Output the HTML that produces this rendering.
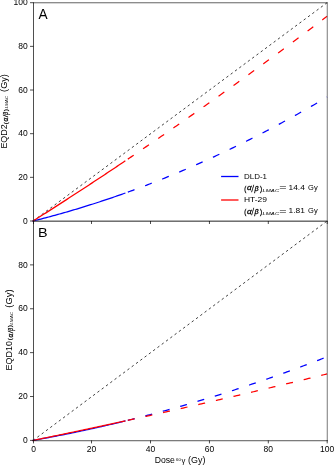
<!DOCTYPE html>
<html><head><meta charset="utf-8"><style>
html,body{margin:0;padding:0;background:#fff;width:335px;height:467px;overflow:hidden}
svg{display:block;will-change:transform}
text{font-family:"Liberation Sans",sans-serif;fill:#000}
</style></head><body>
<svg width="335" height="467" viewBox="0 0 335 467" font-family="Liberation Sans, sans-serif">
<rect width="335" height="467" fill="#fff"/>
<line x1="33.10" y1="221.00" x2="327.10" y2="2.70" stroke="#000" stroke-width="0.75" stroke-dasharray="2.4 2.95"/>
<polyline points="33.10,221.00 34.65,220.61 36.21,220.22 37.76,219.82 39.32,219.43 40.87,219.03 42.43,218.62 43.98,218.22 45.54,217.81 47.09,217.40 48.65,216.98 50.20,216.57 51.76,216.15 53.31,215.72 54.87,215.30 56.42,214.87 57.98,214.44 59.53,214.00 61.08,213.57 62.64,213.13 64.19,212.68 65.75,212.24 67.30,211.79 68.86,211.34 70.41,210.88 71.97,210.43 73.52,209.97 75.08,209.50 76.63,209.04 78.19,208.57 79.74,208.10 81.30,207.63 82.85,207.15 84.41,206.67 85.96,206.19 87.51,205.70 89.07,205.21 90.62,204.72 92.18,204.23 93.73,203.73 95.29,203.23 96.84,202.73 98.40,202.23 99.95,201.72 101.51,201.21 103.06,200.69 104.62,200.18 106.17,199.66 107.73,199.14 109.28,198.61 110.84,198.08 112.39,197.55 113.95,197.02 115.50,196.48 117.05,195.94 118.61,195.40 120.16,194.86 121.72,194.31 123.27,193.76 124.83,193.21" fill="none" stroke="#0000ff" stroke-width="1.25" stroke-linecap="square" stroke-linejoin="round"/>
<polyline points="127.83,192.13 129.50,191.53 131.18,190.92 132.85,190.31 134.53,189.69 136.20,189.07 137.87,188.45 139.55,187.83 141.22,187.20 142.90,186.57 144.57,185.93 146.25,185.30 147.92,184.65 149.60,184.01 151.27,183.36 152.95,182.71 154.62,182.06 156.29,181.40 157.97,180.74 159.64,180.07 161.32,179.41 162.99,178.74 164.67,178.06 166.34,177.39 168.02,176.70 169.69,176.02 171.37,175.33 173.04,174.64 174.71,173.95 176.39,173.25 178.06,172.55 179.74,171.85 181.41,171.14 183.09,170.43 184.76,169.72 186.44,169.00 188.11,168.28 189.79,167.56 191.46,166.83 193.13,166.10 194.81,165.37 196.48,164.63 198.16,163.89 199.83,163.15 201.51,162.40 203.18,161.65 204.86,160.90 206.53,160.15 208.21,159.39 209.88,158.62 211.56,157.86 213.23,157.09 214.90,156.32 216.58,155.54 218.25,154.76 219.93,153.98 221.60,153.19 223.28,152.40 224.95,151.61 226.63,150.82 228.30,150.02 229.98,149.22 231.65,148.41 233.32,147.60 235.00,146.79 236.67,145.97 238.35,145.16 240.02,144.33 241.70,143.51 243.37,142.68 245.05,141.85 246.72,141.01 248.40,140.18 250.07,139.33 251.74,138.49 253.42,137.64 255.09,136.79 256.77,135.94 258.44,135.08 260.12,134.22 261.79,133.35 263.47,132.48 265.14,131.61 266.82,130.74 268.49,129.86 270.16,128.98 271.84,128.10 273.51,127.21 275.19,126.32 276.86,125.42 278.54,124.53 280.21,123.62 281.89,122.72 283.56,121.81 285.24,120.90 286.91,119.99 288.59,119.07 290.26,118.15 291.93,117.23 293.61,116.30 295.28,115.37 296.96,114.44 298.63,113.50 300.31,112.56 301.98,111.62 303.66,110.67 305.33,109.72 307.01,108.77 308.68,107.81 310.35,106.85 312.03,105.89 313.70,104.92 315.38,103.95 317.05,102.98 318.73,102.00 320.40,101.02 322.08,100.04 323.75,99.05 325.43,98.06 327.10,97.07" fill="none" stroke="#0000ff" stroke-width="1.25" stroke-dasharray="7.1 11.3" stroke-linecap="butt"/>
<polyline points="33.10,221.00 34.65,220.02 36.21,219.03 37.76,218.04 39.32,217.06 40.87,216.07 42.43,215.08 43.98,214.09 45.54,213.10 47.09,212.11 48.65,211.11 50.20,210.12 51.76,209.12 53.31,208.13 54.87,207.13 56.42,206.13 57.98,205.13 59.53,204.13 61.08,203.13 62.64,202.12 64.19,201.12 65.75,200.11 67.30,199.11 68.86,198.10 70.41,197.09 71.97,196.08 73.52,195.07 75.08,194.06 76.63,193.05 78.19,192.04 79.74,191.02 81.30,190.01 82.85,188.99 84.41,187.97 85.96,186.95 87.51,185.93 89.07,184.91 90.62,183.89 92.18,182.87 93.73,181.84 95.29,180.82 96.84,179.79 98.40,178.76 99.95,177.74 101.51,176.71 103.06,175.68 104.62,174.65 106.17,173.61 107.73,172.58 109.28,171.55 110.84,170.51 112.39,169.47 113.95,168.44 115.50,167.40 117.05,166.36 118.61,165.32 120.16,164.27 121.72,163.23 123.27,162.19 124.83,161.14" fill="none" stroke="#ff0000" stroke-width="1.25" stroke-linecap="square" stroke-linejoin="round"/>
<polyline points="127.83,159.12 129.50,158.00 131.18,156.87 132.85,155.73 134.53,154.60 136.20,153.47 137.87,152.33 139.55,151.20 141.22,150.06 142.90,148.92 144.57,147.78 146.25,146.64 147.92,145.50 149.60,144.35 151.27,143.21 152.95,142.06 154.62,140.92 156.29,139.77 157.97,138.62 159.64,137.47 161.32,136.32 162.99,135.16 164.67,134.01 166.34,132.85 168.02,131.70 169.69,130.54 171.37,129.38 173.04,128.22 174.71,127.06 176.39,125.89 178.06,124.73 179.74,123.56 181.41,122.40 183.09,121.23 184.76,120.06 186.44,118.89 188.11,117.72 189.79,116.54 191.46,115.37 193.13,114.20 194.81,113.02 196.48,111.84 198.16,110.66 199.83,109.48 201.51,108.30 203.18,107.12 204.86,105.94 206.53,104.75 208.21,103.56 209.88,102.38 211.56,101.19 213.23,100.00 214.90,98.81 216.58,97.61 218.25,96.42 219.93,95.23 221.60,94.03 223.28,92.83 224.95,91.64 226.63,90.44 228.30,89.24 229.98,88.03 231.65,86.83 233.32,85.63 235.00,84.42 236.67,83.21 238.35,82.01 240.02,80.80 241.70,79.59 243.37,78.37 245.05,77.16 246.72,75.95 248.40,74.73 250.07,73.51 251.74,72.30 253.42,71.08 255.09,69.86 256.77,68.64 258.44,67.41 260.12,66.19 261.79,64.96 263.47,63.74 265.14,62.51 266.82,61.28 268.49,60.05 270.16,58.82 271.84,57.59 273.51,56.35 275.19,55.12 276.86,53.88 278.54,52.65 280.21,51.41 281.89,50.17 283.56,48.93 285.24,47.68 286.91,46.44 288.59,45.20 290.26,43.95 291.93,42.70 293.61,41.46 295.28,40.21 296.96,38.96 298.63,37.70 300.31,36.45 301.98,35.20 303.66,33.94 305.33,32.68 307.01,31.43 308.68,30.17 310.35,28.91 312.03,27.64 313.70,26.38 315.38,25.12 317.05,23.85 318.73,22.59 320.40,21.32 322.08,20.05 323.75,18.78 325.43,17.51 327.10,16.23" fill="none" stroke="#ff0000" stroke-width="1.25" stroke-dasharray="7.1 11.3" stroke-linecap="butt"/>
<line x1="33.10" y1="440.40" x2="327.10" y2="221.00" stroke="#000" stroke-width="0.75" stroke-dasharray="2.4 2.95"/>
<polyline points="33.10,440.40 34.65,440.12 36.21,439.84 37.76,439.56 39.32,439.28 40.87,439.00 42.43,438.71 43.98,438.42 45.54,438.13 47.09,437.84 48.65,437.55 50.20,437.26 51.76,436.96 53.31,436.66 54.87,436.36 56.42,436.06 57.98,435.76 59.53,435.45 61.08,435.15 62.64,434.84 64.19,434.53 65.75,434.21 67.30,433.90 68.86,433.58 70.41,433.27 71.97,432.95 73.52,432.63 75.08,432.30 76.63,431.98 78.19,431.65 79.74,431.33 81.30,431.00 82.85,430.67 84.41,430.33 85.96,430.00 87.51,429.66 89.07,429.32 90.62,428.98 92.18,428.64 93.73,428.30 95.29,427.95 96.84,427.60 98.40,427.25 99.95,426.90 101.51,426.55 103.06,426.20 104.62,425.84 106.17,425.48 107.73,425.12 109.28,424.76 110.84,424.40 112.39,424.04 113.95,423.67 115.50,423.30 117.05,422.93 118.61,422.56 120.16,422.19 121.72,421.81 123.27,421.43 124.83,421.05" fill="none" stroke="#0000ff" stroke-width="1.25" stroke-linecap="square" stroke-linejoin="round"/>
<polyline points="127.83,420.32 129.50,419.90 131.18,419.49 132.85,419.07 134.53,418.65 136.20,418.23 137.87,417.81 139.55,417.38 141.22,416.95 142.90,416.52 144.57,416.09 146.25,415.66 147.92,415.22 149.60,414.78 151.27,414.34 152.95,413.90 154.62,413.46 156.29,413.01 157.97,412.56 159.64,412.11 161.32,411.66 162.99,411.21 164.67,410.75 166.34,410.29 168.02,409.83 169.69,409.37 171.37,408.90 173.04,408.44 174.71,407.97 176.39,407.50 178.06,407.03 179.74,406.55 181.41,406.07 183.09,405.60 184.76,405.11 186.44,404.63 188.11,404.15 189.79,403.66 191.46,403.17 193.13,402.68 194.81,402.19 196.48,401.69 198.16,401.20 199.83,400.70 201.51,400.19 203.18,399.69 204.86,399.19 206.53,398.68 208.21,398.17 209.88,397.66 211.56,397.15 213.23,396.63 214.90,396.11 216.58,395.59 218.25,395.07 219.93,394.55 221.60,394.02 223.28,393.49 224.95,392.97 226.63,392.43 228.30,391.90 229.98,391.36 231.65,390.83 233.32,390.29 235.00,389.74 236.67,389.20 238.35,388.65 240.02,388.11 241.70,387.56 243.37,387.01 245.05,386.45 246.72,385.89 248.40,385.34 250.07,384.78 251.74,384.21 253.42,383.65 255.09,383.08 256.77,382.52 258.44,381.95 260.12,381.37 261.79,380.80 263.47,380.22 265.14,379.64 266.82,379.06 268.49,378.48 270.16,377.90 271.84,377.31 273.51,376.72 275.19,376.13 276.86,375.54 278.54,374.94 280.21,374.35 281.89,373.75 283.56,373.15 285.24,372.54 286.91,371.94 288.59,371.33 290.26,370.72 291.93,370.11 293.61,369.50 295.28,368.88 296.96,368.27 298.63,367.65 300.31,367.03 301.98,366.40 303.66,365.78 305.33,365.15 307.01,364.52 308.68,363.89 310.35,363.26 312.03,362.62 313.70,361.98 315.38,361.34 317.05,360.70 318.73,360.06 320.40,359.41 322.08,358.76 323.75,358.11 325.43,357.46 327.10,356.81" fill="none" stroke="#0000ff" stroke-width="1.25" stroke-dasharray="7.0 11.05" stroke-linecap="butt"/>
<polyline points="33.10,440.40 34.65,440.08 36.21,439.76 37.76,439.44 39.32,439.12 40.87,438.80 42.43,438.48 43.98,438.16 45.54,437.84 47.09,437.51 48.65,437.19 50.20,436.87 51.76,436.55 53.31,436.22 54.87,435.90 56.42,435.58 57.98,435.25 59.53,434.93 61.08,434.60 62.64,434.28 64.19,433.95 65.75,433.62 67.30,433.30 68.86,432.97 70.41,432.64 71.97,432.32 73.52,431.99 75.08,431.66 76.63,431.33 78.19,431.00 79.74,430.67 81.30,430.34 82.85,430.01 84.41,429.68 85.96,429.35 87.51,429.02 89.07,428.69 90.62,428.36 92.18,428.03 93.73,427.70 95.29,427.36 96.84,427.03 98.40,426.70 99.95,426.36 101.51,426.03 103.06,425.69 104.62,425.36 106.17,425.02 107.73,424.69 109.28,424.35 110.84,424.02 112.39,423.68 113.95,423.34 115.50,423.01 117.05,422.67 118.61,422.33 120.16,421.99 121.72,421.66 123.27,421.32 124.83,420.98" fill="none" stroke="#ff0000" stroke-width="1.25" stroke-linecap="square" stroke-linejoin="round"/>
<polyline points="127.83,420.32 129.50,419.96 131.18,419.59 132.85,419.22 134.53,418.85 136.20,418.49 137.87,418.12 139.55,417.75 141.22,417.38 142.90,417.01 144.57,416.64 146.25,416.27 147.92,415.90 149.60,415.53 151.27,415.16 152.95,414.78 154.62,414.41 156.29,414.04 157.97,413.67 159.64,413.29 161.32,412.92 162.99,412.54 164.67,412.17 166.34,411.79 168.02,411.42 169.69,411.04 171.37,410.67 173.04,410.29 174.71,409.91 176.39,409.53 178.06,409.16 179.74,408.78 181.41,408.40 183.09,408.02 184.76,407.64 186.44,407.26 188.11,406.88 189.79,406.50 191.46,406.12 193.13,405.74 194.81,405.36 196.48,404.97 198.16,404.59 199.83,404.21 201.51,403.82 203.18,403.44 204.86,403.06 206.53,402.67 208.21,402.29 209.88,401.90 211.56,401.51 213.23,401.13 214.90,400.74 216.58,400.35 218.25,399.97 219.93,399.58 221.60,399.19 223.28,398.80 224.95,398.41 226.63,398.02 228.30,397.63 229.98,397.24 231.65,396.85 233.32,396.46 235.00,396.07 236.67,395.68 238.35,395.28 240.02,394.89 241.70,394.50 243.37,394.11 245.05,393.71 246.72,393.32 248.40,392.92 250.07,392.53 251.74,392.13 253.42,391.74 255.09,391.34 256.77,390.94 258.44,390.55 260.12,390.15 261.79,389.75 263.47,389.35 265.14,388.95 266.82,388.55 268.49,388.15 270.16,387.76 271.84,387.35 273.51,386.95 275.19,386.55 276.86,386.15 278.54,385.75 280.21,385.35 281.89,384.94 283.56,384.54 285.24,384.14 286.91,383.73 288.59,383.33 290.26,382.93 291.93,382.52 293.61,382.11 295.28,381.71 296.96,381.30 298.63,380.90 300.31,380.49 301.98,380.08 303.66,379.67 305.33,379.27 307.01,378.86 308.68,378.45 310.35,378.04 312.03,377.63 313.70,377.22 315.38,376.81 317.05,376.40 318.73,375.99 320.40,375.57 322.08,375.16 323.75,374.75 325.43,374.34 327.10,373.92" fill="none" stroke="#ff0000" stroke-width="1.25" stroke-dasharray="7.0 11.05" stroke-linecap="butt"/>
<line x1="33.5" y1="2.5" x2="33.5" y2="441.1" stroke="#222" stroke-width="0.8"/>
<line x1="327.25" y1="2.5" x2="327.25" y2="441.1" stroke="#555" stroke-width="0.8"/>
<line x1="33.1" y1="2.78" x2="327.65" y2="2.78" stroke="#000" stroke-width="0.62"/>
<line x1="33.1" y1="440.72" x2="327.65" y2="440.72" stroke="#000" stroke-width="0.67"/>
<line x1="33.1" y1="221.15" x2="327.65" y2="221.15" stroke="#222" stroke-width="1.0"/>
<line x1="30.0" y1="2.70" x2="33.5" y2="2.70" stroke="#000" stroke-width="0.7"/>
<text x="27.8" y="5.40" text-anchor="end" font-size="8.5">100</text>
<line x1="30.0" y1="46.36" x2="33.5" y2="46.36" stroke="#000" stroke-width="0.7"/>
<text x="27.8" y="49.06" text-anchor="end" font-size="8.5">80</text>
<line x1="30.0" y1="90.02" x2="33.5" y2="90.02" stroke="#000" stroke-width="0.7"/>
<text x="27.8" y="92.72" text-anchor="end" font-size="8.5">60</text>
<line x1="30.0" y1="133.68" x2="33.5" y2="133.68" stroke="#000" stroke-width="0.7"/>
<text x="27.8" y="136.38" text-anchor="end" font-size="8.5">40</text>
<line x1="30.0" y1="177.34" x2="33.5" y2="177.34" stroke="#000" stroke-width="0.7"/>
<text x="27.8" y="180.04" text-anchor="end" font-size="8.5">20</text>
<line x1="30.0" y1="221.00" x2="33.5" y2="221.00" stroke="#000" stroke-width="0.7"/>
<text x="27.8" y="223.70" text-anchor="end" font-size="8.5">0</text>
<line x1="30.0" y1="264.88" x2="33.5" y2="264.88" stroke="#000" stroke-width="0.7"/>
<text x="27.8" y="267.58" text-anchor="end" font-size="8.5">80</text>
<line x1="30.0" y1="308.76" x2="33.5" y2="308.76" stroke="#000" stroke-width="0.7"/>
<text x="27.8" y="311.46" text-anchor="end" font-size="8.5">60</text>
<line x1="30.0" y1="352.64" x2="33.5" y2="352.64" stroke="#000" stroke-width="0.7"/>
<text x="27.8" y="355.34" text-anchor="end" font-size="8.5">40</text>
<line x1="30.0" y1="396.52" x2="33.5" y2="396.52" stroke="#000" stroke-width="0.7"/>
<text x="27.8" y="399.22" text-anchor="end" font-size="8.5">20</text>
<line x1="30.0" y1="440.40" x2="33.5" y2="440.40" stroke="#000" stroke-width="0.7"/>
<text x="27.8" y="443.10" text-anchor="end" font-size="8.5">0</text>
<line x1="33.50" y1="221.00" x2="33.50" y2="224.00" stroke="#000" stroke-width="0.7"/>
<line x1="91.50" y1="221.00" x2="91.50" y2="224.00" stroke="#000" stroke-width="0.7"/>
<line x1="150.50" y1="221.00" x2="150.50" y2="224.00" stroke="#000" stroke-width="0.7"/>
<line x1="209.45" y1="221.00" x2="209.45" y2="224.00" stroke="#000" stroke-width="0.7"/>
<line x1="268.30" y1="221.00" x2="268.30" y2="224.00" stroke="#000" stroke-width="0.7"/>
<line x1="327.20" y1="221.00" x2="327.20" y2="224.00" stroke="#000" stroke-width="0.7"/>
<line x1="33.50" y1="440.40" x2="33.50" y2="443.40" stroke="#000" stroke-width="0.7"/>
<text x="33.50" y="451.7" text-anchor="middle" font-size="8.5">0</text>
<line x1="91.50" y1="440.40" x2="91.50" y2="443.40" stroke="#000" stroke-width="0.7"/>
<text x="91.50" y="451.7" text-anchor="middle" font-size="8.5">20</text>
<line x1="150.50" y1="440.40" x2="150.50" y2="443.40" stroke="#000" stroke-width="0.7"/>
<text x="150.50" y="451.7" text-anchor="middle" font-size="8.5">40</text>
<line x1="209.45" y1="440.40" x2="209.45" y2="443.40" stroke="#000" stroke-width="0.7"/>
<text x="209.45" y="451.7" text-anchor="middle" font-size="8.5">60</text>
<line x1="268.30" y1="440.40" x2="268.30" y2="443.40" stroke="#000" stroke-width="0.7"/>
<text x="268.30" y="451.7" text-anchor="middle" font-size="8.5">80</text>
<line x1="327.20" y1="440.40" x2="327.20" y2="443.40" stroke="#000" stroke-width="0.7"/>
<text x="327.20" y="451.7" text-anchor="middle" font-size="8.5">100</text>
<text transform="matrix(0.9785 0 0 1.0104 38.500 18.600)" font-size="14">A</text>
<text transform="matrix(1.0267 0 0 0.9271 37.971 236.800)" font-size="14">B</text>
<line x1="221.1" y1="176.5" x2="238.5" y2="176.5" stroke="#0000ff" stroke-width="1.3"/>
<line x1="221.1" y1="200.0" x2="238.5" y2="200.0" stroke="#ff0000" stroke-width="1.3"/>
<text transform="matrix(0.9955 0 0 0.9273 244.003 179.100)" font-size="8">DLD-1</text>
<text transform="matrix(0.7619 0 0 0.9189 244.219 190.530)" font-size="8" stroke="#000" stroke-width="0.3">(</text>
<text transform="matrix(1.0227 0 0 0.8864 246.993 190.411)" font-size="8" font-style="italic" stroke="#000" stroke-width="0.3">α</text>
<text transform="matrix(0.7879 0 0 1.1017 251.815 191.590)" font-size="8" font-style="italic" stroke="#000" stroke-width="0.3">/</text>
<text transform="matrix(0.8913 0 0 0.9189 254.578 190.530)" font-size="8" font-style="italic" stroke="#000" stroke-width="0.3">β</text>
<text transform="matrix(0.8095 0 0 0.9189 260.119 190.530)" font-size="8" stroke="#000" stroke-width="0.3">)</text>
<text transform="matrix(1.0061 0 0 0.6667 262.499 191.500)" font-size="6" font-style="italic">LMAC</text>
<text transform="matrix(1.5641 0 0 0.9600 279.374 190.344)" font-size="8">=</text>
<text transform="matrix(1.0476 0 0 0.8545 288.571 190.200)" font-size="8">14.4</text>
<text transform="matrix(0.9388 0 0 0.8889 308.124 190.278)" font-size="8">Gy</text>
<text transform="matrix(1.0580 0 0 0.8947 243.959 202.211)" font-size="8">HT-29</text>
<text transform="matrix(0.7619 0 0 0.9189 244.219 213.730)" font-size="8" stroke="#000" stroke-width="0.3">(</text>
<text transform="matrix(1.0227 0 0 0.8864 246.993 213.611)" font-size="8" font-style="italic" stroke="#000" stroke-width="0.3">α</text>
<text transform="matrix(0.7879 0 0 1.1017 251.815 214.790)" font-size="8" font-style="italic" stroke="#000" stroke-width="0.3">/</text>
<text transform="matrix(0.8913 0 0 0.9189 254.578 213.730)" font-size="8" font-style="italic" stroke="#000" stroke-width="0.3">β</text>
<text transform="matrix(0.8095 0 0 0.9189 260.119 213.730)" font-size="8" stroke="#000" stroke-width="0.3">)</text>
<text transform="matrix(1.0061 0 0 0.6667 262.499 214.700)" font-size="6" font-style="italic">LMAC</text>
<text transform="matrix(1.5641 0 0 0.9600 279.374 213.544)" font-size="8">=</text>
<text transform="matrix(1.0548 0 0 0.8246 288.567 213.318)" font-size="8">1.81</text>
<text transform="matrix(0.9388 0 0 0.8889 308.124 213.478)" font-size="8">Gy</text>
<g transform="rotate(-90)">
<text transform="matrix(0.9915 0 0 1.0500 -148.594 6.700)" font-size="9">EQD2</text>
<text transform="matrix(1.0000 0 0 1.0000 -124.200 7.500)" font-size="6" stroke="#000" stroke-width="0.25">(</text>
<text transform="matrix(1.0606 0 0 1.0937 -121.412 8.100)" font-size="6" font-style="italic" stroke="#000" stroke-width="0.25">α</text>
<text transform="matrix(1.0833 0 0 1.1628 -116.975 8.400)" font-size="6" font-style="italic" stroke="#000" stroke-width="0.25">/</text>
<text transform="matrix(0.8235 0 0 1.0909 -114.718 7.891)" font-size="6" font-style="italic" stroke="#000" stroke-width="0.25">β</text>
<text transform="matrix(1.0667 0 0 1.0000 -111.207 7.500)" font-size="6" stroke="#000" stroke-width="0.25">)</text>
<text transform="matrix(1.0244 0 0 0.7419 -108.605 8.100)" font-size="4.5" font-style="italic">LMAC</text>
<text transform="matrix(1.0184 0 0 0.9405 -91.911 6.813)" font-size="9">(Gy)</text>
<text transform="matrix(0.9930 0 0 1.0500 -370.395 11.600)" font-size="9">EQD10</text>
<text transform="matrix(1.0000 0 0 1.0000 -340.300 12.400)" font-size="6" stroke="#000" stroke-width="0.25">(</text>
<text transform="matrix(1.0606 0 0 1.0937 -337.512 13.000)" font-size="6" font-style="italic" stroke="#000" stroke-width="0.25">α</text>
<text transform="matrix(1.0833 0 0 1.1628 -333.075 13.300)" font-size="6" font-style="italic" stroke="#000" stroke-width="0.25">/</text>
<text transform="matrix(0.8235 0 0 1.0909 -330.818 12.791)" font-size="6" font-style="italic" stroke="#000" stroke-width="0.25">β</text>
<text transform="matrix(1.0667 0 0 1.0000 -327.307 12.400)" font-size="6" stroke="#000" stroke-width="0.25">)</text>
<text transform="matrix(1.0244 0 0 0.7419 -324.705 13.000)" font-size="4.5" font-style="italic">LMAC</text>
<text transform="matrix(1.0429 0 0 0.9405 -307.626 11.713)" font-size="9">(Gy)</text>
</g>
<text transform="matrix(1.0213 0 0 1.0000 154.685 463.100)" font-size="8.5">Dose</text>
<text transform="matrix(1.0233 0 0 0.7931 176.095 461.200)" font-size="4.2">60</text>
<text transform="matrix(1.1935 0 0 1.1489 181.381 463.106)" font-size="6.5">γ</text>
<text transform="matrix(1.0516 0 0 1.0506 188.074 463.309)" font-size="8.5">(Gy)</text>
</svg>
</body></html>
